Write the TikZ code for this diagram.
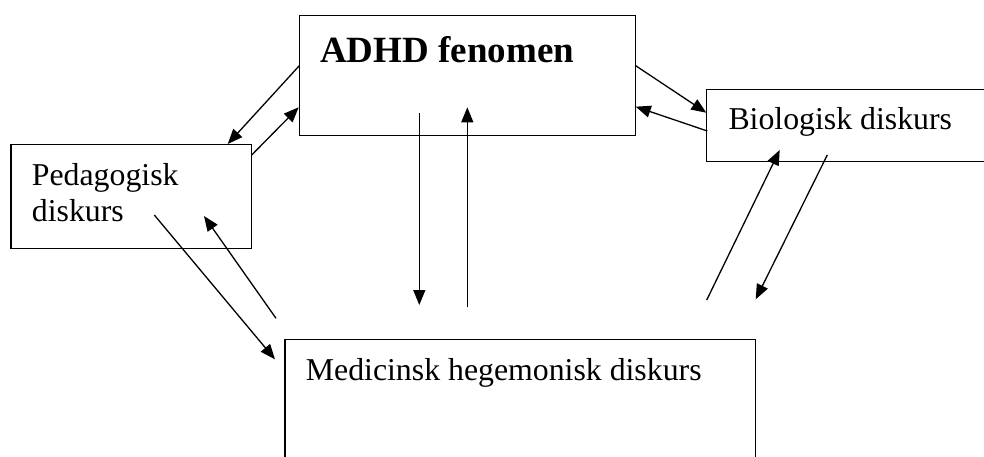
\documentclass[tikz,border=0pt]{standalone}
\usepackage{fontspec}
\setmainfont{Liberation Serif}
\usetikzlibrary{arrows.meta}
\begin{document}
\begin{tikzpicture}[x=1pt,y=-1pt,
  box/.style={draw,line width=1.4pt,inner sep=0pt,outer sep=0pt,anchor=north west},
  lbl/.style={anchor=base west,inner sep=0pt,font=\fontsize{31.8}{36.6}\selectfont},
  arr/.style={line width=1.3pt,-{Triangle[length=15pt,width=12pt]}}]
\useasboundingbox (0,0) rectangle (984,456);
\clip (0,0) rectangle (984,456);
% boxes
\node[box,minimum width=336.4pt,minimum height=120pt] (adhd) at (299.3,15.7) {};
\node[box,minimum width=240.7pt,minimum height=104.4pt] (ped) at (11,144.3) {};
\node[box,minimum width=300pt,minimum height=72pt] (bio) at (706.7,89.3) {};
\node[box,minimum width=470.7pt,minimum height=140pt] (med) at (285,339.3) {};
% texts
\node[lbl,font=\fontsize{37}{42}\selectfont\bfseries] (tadhd) at (320,62) {ADHD fenomen};
\node[lbl] (tped1) at (31.7,185) {Pedagogisk};
\node[lbl] (tped2) at (31.7,221.7) {diskurs};
\node[lbl] (tbio) at (728.3,129.3) {Biologisk diskurs};
\node[lbl] (tmed) at (305.7,380) {Medicinsk hegemonisk diskurs};
% connector end points
\coordinate (a1s) at (299.3,65.7);  \coordinate (a1e) at (227.7,144);
\coordinate (a2s) at (251.7,155);   \coordinate (a2e) at (298.7,107.3);
\coordinate (a3s) at (419.3,113.3); \coordinate (a3e) at (419.3,305);
\coordinate (a4s) at (467.3,306.7); \coordinate (a4e) at (467.3,107.3);
\coordinate (a5s) at (154.3,215);   \coordinate (a5e) at (275,359.3);
\coordinate (a6s) at (276,318.3);   \coordinate (a6e) at (204,216);
\coordinate (a7s) at (635.7,65.7);  \coordinate (a7e) at (706.3,112.7);
\coordinate (a8s) at (707.3,131);   \coordinate (a8e) at (635.7,106.7);
\coordinate (a9s) at (706.7,300);   \coordinate (a9e) at (779.7,150);
\coordinate (a10s) at (827.3,155);  \coordinate (a10e) at (755.7,299.3);
% connectors
\draw[arr] (a1s) -- (a1e);
\draw[arr] (a2s) -- (a2e);
\draw[arr] (a3s) -- (a3e);
\draw[arr] (a4s) -- (a4e);
\draw[arr] (a5s) -- (a5e);
\draw[arr] (a6s) -- (a6e);
\draw[arr] (a7s) -- (a7e);
\draw[arr] (a8s) -- (a8e);
\draw[arr] (a9s) -- (a9e);
\draw[arr] (a10s) -- (a10e);
\end{tikzpicture}
\end{document}
